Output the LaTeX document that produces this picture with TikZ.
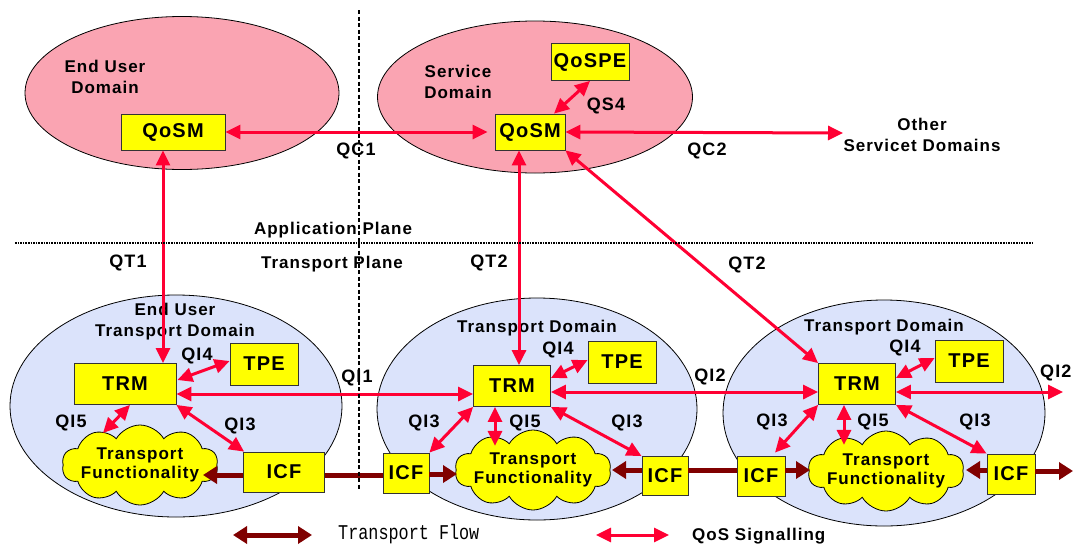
\documentclass[tikz,border=0pt]{standalone}
\usepackage{fontspec}
\setmainfont{Liberation Sans}[LetterSpace=6]
\newfontfamily\legmono{Liberation Mono}[FakeStretch=0.8]
\usetikzlibrary{shapes.geometric,shapes.symbols,arrows.meta,calc}
\definecolor{pinkfill}{RGB}{250,164,178}
\definecolor{bluefill}{RGB}{219,227,251}
\definecolor{sigred}{RGB}{255,0,51}
\definecolor{flowred}{RGB}{128,0,0}
\definecolor{boxyellow}{RGB}{255,255,0}
\begin{document}
\begin{tikzpicture}[x=1pt,y=-1pt,
  appdom/.style={ellipse, draw=black, line width=0.8pt, fill=pinkfill, inner sep=0pt},
  trdom/.style={ellipse, draw=black, line width=0.8pt, fill=bluefill, inner sep=0pt},
  fbox/.style={draw=black!80, line width=0.8pt, fill=boxyellow, inner sep=0pt, font=\fontsize{20}{22}\selectfont\bfseries},
  tf/.style={cloud, cloud puffs=10, cloud puff arc=120, cloud ignores aspect, draw=black, line width=0.8pt, fill=boxyellow, inner xsep=-30pt, inner ysep=-15pt, align=center, font=\fontsize{17}{19}\selectfont\bfseries, minimum width=156pt, minimum height=80pt},
  dlabel/.style={align=center, font=\fontsize{17}{21}\selectfont\bfseries, inner sep=0pt},
  ilabel/.style={font=\fontsize{18}{20}\selectfont\bfseries, inner sep=0pt},
  sig/.style={draw=sigred, line width=3pt},
  sigboth/.style={sig, {Triangle[length=15pt,width=14pt]}-{Triangle[length=15pt,width=14pt]}},
  flow/.style={draw=flowred, line width=5pt},
  flowone/.style={flow, -{Triangle[length=14pt,width=17pt]}},
  flowboth/.style={flow, {Triangle[length=14pt,width=17pt]}-{Triangle[length=14pt,width=17pt]}},
  vdash/.style={draw=black, line width=1.6pt, dash pattern=on 4pt off 2.5pt},
  hdot/.style={draw=black, line width=1.3pt, dash pattern=on 1.6pt off 1pt}
]
\useasboundingbox (0,0) rectangle (1073,544);

% domains
\node[appdom, minimum width=314pt, minimum height=153pt] (eud) at (182,93) {};
\node[appdom, minimum width=315pt, minimum height=152pt] (sd) at (535,97) {};
\node[trdom, minimum width=332pt, minimum height=222pt] (eutd) at (176,406) {};
\node[trdom, minimum width=320pt, minimum height=222pt] (td1) at (537,409) {};
\node[trdom, minimum width=322pt, minimum height=226pt] (td2) at (884,413) {};

% domain labels
\node[dlabel] (eudl) at (105,77) {End User\\Domain};
\node[dlabel] (sdl) at (458,82) {Service\\Domain};
\node[dlabel] (osd) at (922,135) {Other\\Servicet Domains};
\node[dlabel] (eutdl) at (175,322) {End User\\Transport Domain};
\node[dlabel] (td1l) at (537,328) {Transport Domain};
\node[dlabel] (td2l) at (884,327) {Transport Domain};
\node[dlabel] (appl) at (333,230) {Application Plane};
\node[dlabel] (trpl) at (332,264) {Transport Plane};

% boxes
\node[fbox, minimum width=104pt, minimum height=36pt] (qosmA) at (173,132) {QoSM};
\node[fbox, minimum width=70pt, minimum height=36pt] (qosmS) at (530,132) {QoSM};
\node[fbox, minimum width=78pt, minimum height=37pt] (qospe) at (590,62) {QoSPE};

\node[fbox, minimum width=102pt, minimum height=41pt] (trmA) at (125,384) {TRM};
\node[fbox, minimum width=68pt, minimum height=42pt] (tpeA) at (264,364) {TPE};
\node[fbox, minimum width=81pt, minimum height=40pt] (icfA) at (284,472) {ICF};
\node[tf] (tfA) at (140,465) {Transport\\Functionality};

\node[fbox, minimum width=77pt, minimum height=41pt] (trmB) at (512,386) {TRM};
\node[fbox, minimum width=68pt, minimum height=42pt] (tpeB) at (622,362) {TPE};
\node[fbox, minimum width=46pt, minimum height=40pt] (icfB1) at (406,473) {ICF};
\node[fbox, minimum width=46pt, minimum height=39pt] (icfB2) at (665,476) {ICF};
\node[tf] (tfB) at (533,470) {Transport\\Functionality};

\node[fbox, minimum width=77pt, minimum height=41pt] (trmC) at (857,384) {TRM};
\node[fbox, minimum width=68pt, minimum height=42pt] (tpeC) at (969,361) {TPE};
\node[fbox, minimum width=48pt, minimum height=40pt] (icfC1) at (761,476) {ICF};
\node[fbox, minimum width=48pt, minimum height=40pt] (icfC2) at (1011,474) {ICF};
\node[tf] (tfC) at (886,471) {Transport\\Functionality};

% interface labels
\node[ilabel] (lqc1) at (356,151) {QC1};
\node[ilabel] (lqc2) at (707,151) {QC2};
\node[ilabel] (lqs4) at (606,106) {QS4};
\node[ilabel] (lqt1) at (128,263) {QT1};
\node[ilabel] (lqt2a) at (489,263) {QT2};
\node[ilabel] (lqt2b) at (747,265) {QT2};
\node[ilabel] (lqi4a) at (197,356) {QI4};
\node[ilabel] (lqi5a) at (71,423) {QI5};
\node[ilabel] (lqi3a) at (240,426) {QI3};
\node[ilabel] (lqi1) at (357,378) {QI1};
\node[ilabel] (lqi4b) at (558,350) {QI4};
\node[ilabel] (lqi3b) at (424,423) {QI3};
\node[ilabel] (lqi5b) at (525,423) {QI5};
\node[ilabel] (lqi3c) at (627,423) {QI3};
\node[ilabel] (lqi2a) at (710,377) {QI2};
\node[ilabel] (lqi4c) at (905,348) {QI4};
\node[ilabel] (lqi3d) at (772,422) {QI3};
\node[ilabel] (lqi5c) at (873,422) {QI5};
\node[ilabel] (lqi3e) at (975,422) {QI3};
\node[ilabel, anchor=west] (lqi2b) at (1040,373) {QI2};

% free ends
\coordinate (qc2end) at (843,133);
\coordinate (qi2end) at (1063,392);
\coordinate (flowend) at (1073,471);

% signalling
\draw[sigboth, shorten >=7pt] (qosmA.east) -- (qosmS.west);
\draw[sigboth] (qosmS.east) -- (qc2end);
\draw[sigboth] (qospe.south) -- ($(qosmS.north)+(24,0)$);
\draw[sigboth] ($(qosmA.south)+(-10,0)$) -- ($(trmA.north)+(38,0)$);
\draw[sigboth] ($(qosmS.south)+(-11,0)$) -- ($(trmB.north)+(7,0)$);
\draw[sigboth] (qosmS.south east) -- (trmC.north west);

\draw[sigboth] ($(trmA.east)+(1,-4)$) -- ($(tpeA.west)+(0,-3)$);
\draw[sigboth] ($(trmA.south)+(5,0)$) -- ($(tfA.center)+(-37,-32)$);
\draw[sigboth] (trmA.south east) -- ($(icfA.north west)+(1,0)$);
\draw[sigboth] ($(trmA.east)+(0,10)$) -- ($(trmB.west)+(0,8)$);

\draw[sigboth] ($(trmB.east)+(0,-8)$) -- ($(tpeB.west)+(0,-2)$);
\draw[sigboth] (trmB.south west) -- (icfB1.north east);
\draw[sigboth] ($(trmB.south)+(-17,0)$) -- ($(trmB.south)+(-17,39)$);
\draw[sigboth] (trmB.south east) -- (icfB2.north west);
\draw[sigboth] ($(trmB.east)+(0,6)$) -- ($(trmC.west)+(0,8)$);

\draw[sigboth] ($(trmC.east)+(0,-6)$) -- ($(tpeC.west)+(0,-3)$);
\draw[sigboth] (trmC.south west) -- ($(icfC1.north)+(14,-3)$);
\draw[sigboth] ($(trmC.south)+(-13,0)$) -- ($(trmC.south)+(-13,40)$);
\draw[sigboth] (trmC.south east) -- (icfC2.north west);
\draw[sigboth] ($(trmC.east)+(0,8)$) -- (qi2end);

% transport flow
\draw[flowone] ($(icfA.west)+(0,3)$) -- ($(tfA.center)+(63,10)$);
\draw[flow] ($(icfA.east)+(0,3)$) -- ($(icfB1.west)+(0,2)$);
\draw[flowone] ($(icfB1.east)+(0,1)$) -- ($(tfB.center)+(-76,4)$);
\draw[flowone] ($(icfB2.west)+(0,-6)$) -- ($(tfB.center)+(79,0)$);
\draw[flow] ($(icfB2.east)+(0,-6)$) -- ($(icfC1.west)+(0,-6)$);
\draw[flowone] ($(icfC1.east)+(0,-6)$) -- ($(tfC.center)+(-76,-1)$);
\draw[flowone] ($(icfC2.west)+(0,-4)$) -- ($(tfC.center)+(80,-1)$);
\draw[flowone] ($(icfC2.east)+(0,-3)$) -- (flowend);

% plane dividers
\coordinate (vtop) at (359,10);
\coordinate (vbot) at (359,490);
\coordinate (hleft) at (15,243);
\coordinate (hright) at (1032,243);
\draw[hdot] (hleft) -- (hright);
\draw[vdash] (vtop) -- (vbot);

% legend
\coordinate (lf1) at (233,535);
\coordinate (lf2) at (312,535);
\coordinate (ls1) at (596,535);
\coordinate (ls2) at (669,535);
\draw[flowboth] (lf1) -- (lf2);
\draw[sigboth] (ls1) -- (ls2);
\node[anchor=base west, inner sep=0pt, font=\fontsize{21}{23}\legmono] (lflow) at (338,539.5) {Transport Flow};
\node[anchor=base west, inner sep=0pt, font=\fontsize{17}{20}\selectfont\bfseries] (lsig) at (692,540) {QoS Signalling};
\end{tikzpicture}
\end{document}
